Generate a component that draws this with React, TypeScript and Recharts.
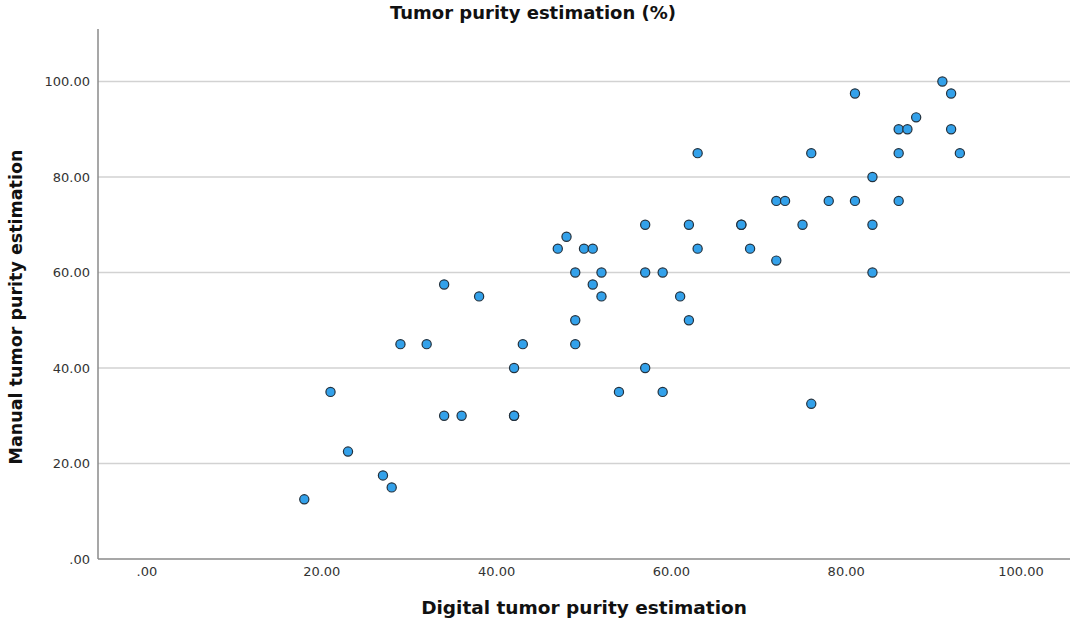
import React from 'react';
import { ScatterChart, Scatter, XAxis, YAxis, CartesianGrid } from 'recharts';

// digital vs manual tumor purity (%), one entry per case
const digital = [
    18, 21, 23, 27, 28, 29, 32, 34, 34, 36, 38, 42, 42, 42, 43,
    47, 48, 49, 49, 49, 50, 51, 51, 52, 52, 54, 57, 57, 57, 59,
    59, 61, 62, 62, 63, 63, 68, 68, 69, 72, 72, 73, 75, 76, 76,
    78, 81, 81, 83, 83, 83, 86, 86, 86, 87, 88, 91, 92, 92, 93,
];
const manual = [
    12.5, 35, 22.5, 17.5, 15, 45, 45, 30, 57.5, 30, 55, 40, 30, 30, 45,
    65, 67.5, 60, 50, 45, 65, 57.5, 65, 60, 55, 35, 70, 60, 40, 60,
    35, 55, 70, 50, 85, 65, 70, 70, 65, 75, 62.5, 75, 70, 85, 32.5,
    75, 97.5, 75, 80, 70, 60, 90, 85, 75, 90, 92.5, 100, 97.5, 90, 85,
];
const TICKS = [0, 20, 40, 60, 80, 100];
const GRID_VALUES = [20, 40, 60, 80, 100];

const points = digital.map((d, i) => ({ x: d, y: manual[i] }));

const fmt = (v: number) => (v === 0 ? '.00' : v.toFixed(2));

const FONT = '"DejaVu Sans", "Liberation Sans", sans-serif';

const Dot = (props: any) => {
    const { cx, cy } = props;
    if (cx == null || cy == null) return null;
    return <circle cx={cx} cy={cy} r={4.6} fill="#33a1ea" stroke="#23313d" strokeWidth={1.2} />;
};

const App: React.FC = () => {
    return (
        <div style={{ position: 'absolute', left: 0, top: 0, width: 1070, height: 623, background: '#fff', fontFamily: FONT, overflow: 'hidden' }}>
            <ScatterChart width={1070} height={623} margin={{ top: 29, right: 0, bottom: 0, left: 0 }}>
                <CartesianGrid vertical={false} horizontalValues={GRID_VALUES} stroke="#d2d2d2" strokeWidth={1.5} />
                <XAxis
                    type="number"
                    dataKey="x"
                    domain={[-5.6, 105.6]}
                    ticks={TICKS}
                    allowDataOverflow
                    tickFormatter={fmt}
                    tickLine={false}
                    axisLine={{ stroke: '#8a8a8a', strokeWidth: 1.5 }}
                    tick={{ fill: '#333', fontSize: 13, fontFamily: FONT }}
                    height={64}
                />
                <YAxis
                    type="number"
                    dataKey="y"
                    domain={[0, 111]}
                    ticks={TICKS}
                    allowDataOverflow
                    tickFormatter={fmt}
                    tickLine={false}
                    axisLine={{ stroke: '#8a8a8a', strokeWidth: 1.5 }}
                    tick={{ fill: '#333', fontSize: 13, fontFamily: FONT }}
                    width={98}
                />
                <Scatter data={points} shape={<Dot />} isAnimationActive={false} />
            </ScatterChart>

            {/* titles */}
            <div style={{ position: 'absolute', left: 0, width: 1066, top: 2, textAlign: 'center', fontSize: 18, fontWeight: 'bold', color: '#111', whiteSpace: 'nowrap' }}>
                Tumor purity estimation (%)
            </div>
            <div style={{ position: 'absolute', left: 98, width: 972, top: 597, textAlign: 'center', fontSize: 18.5, fontWeight: 'bold', color: '#111', whiteSpace: 'nowrap' }}>
                Digital tumor purity estimation
            </div>
            <div
                style={{
                    position: 'absolute', left: 16, top: 308, width: 400, marginLeft: -200, marginTop: -11,
                    textAlign: 'center', fontSize: 17.5, fontWeight: 'bold', color: '#111', whiteSpace: 'nowrap',
                    transform: 'rotate(-90deg)',
                }}
            >
                Manual tumor purity estimation
            </div>
        </div>
    );
};

export default App;
